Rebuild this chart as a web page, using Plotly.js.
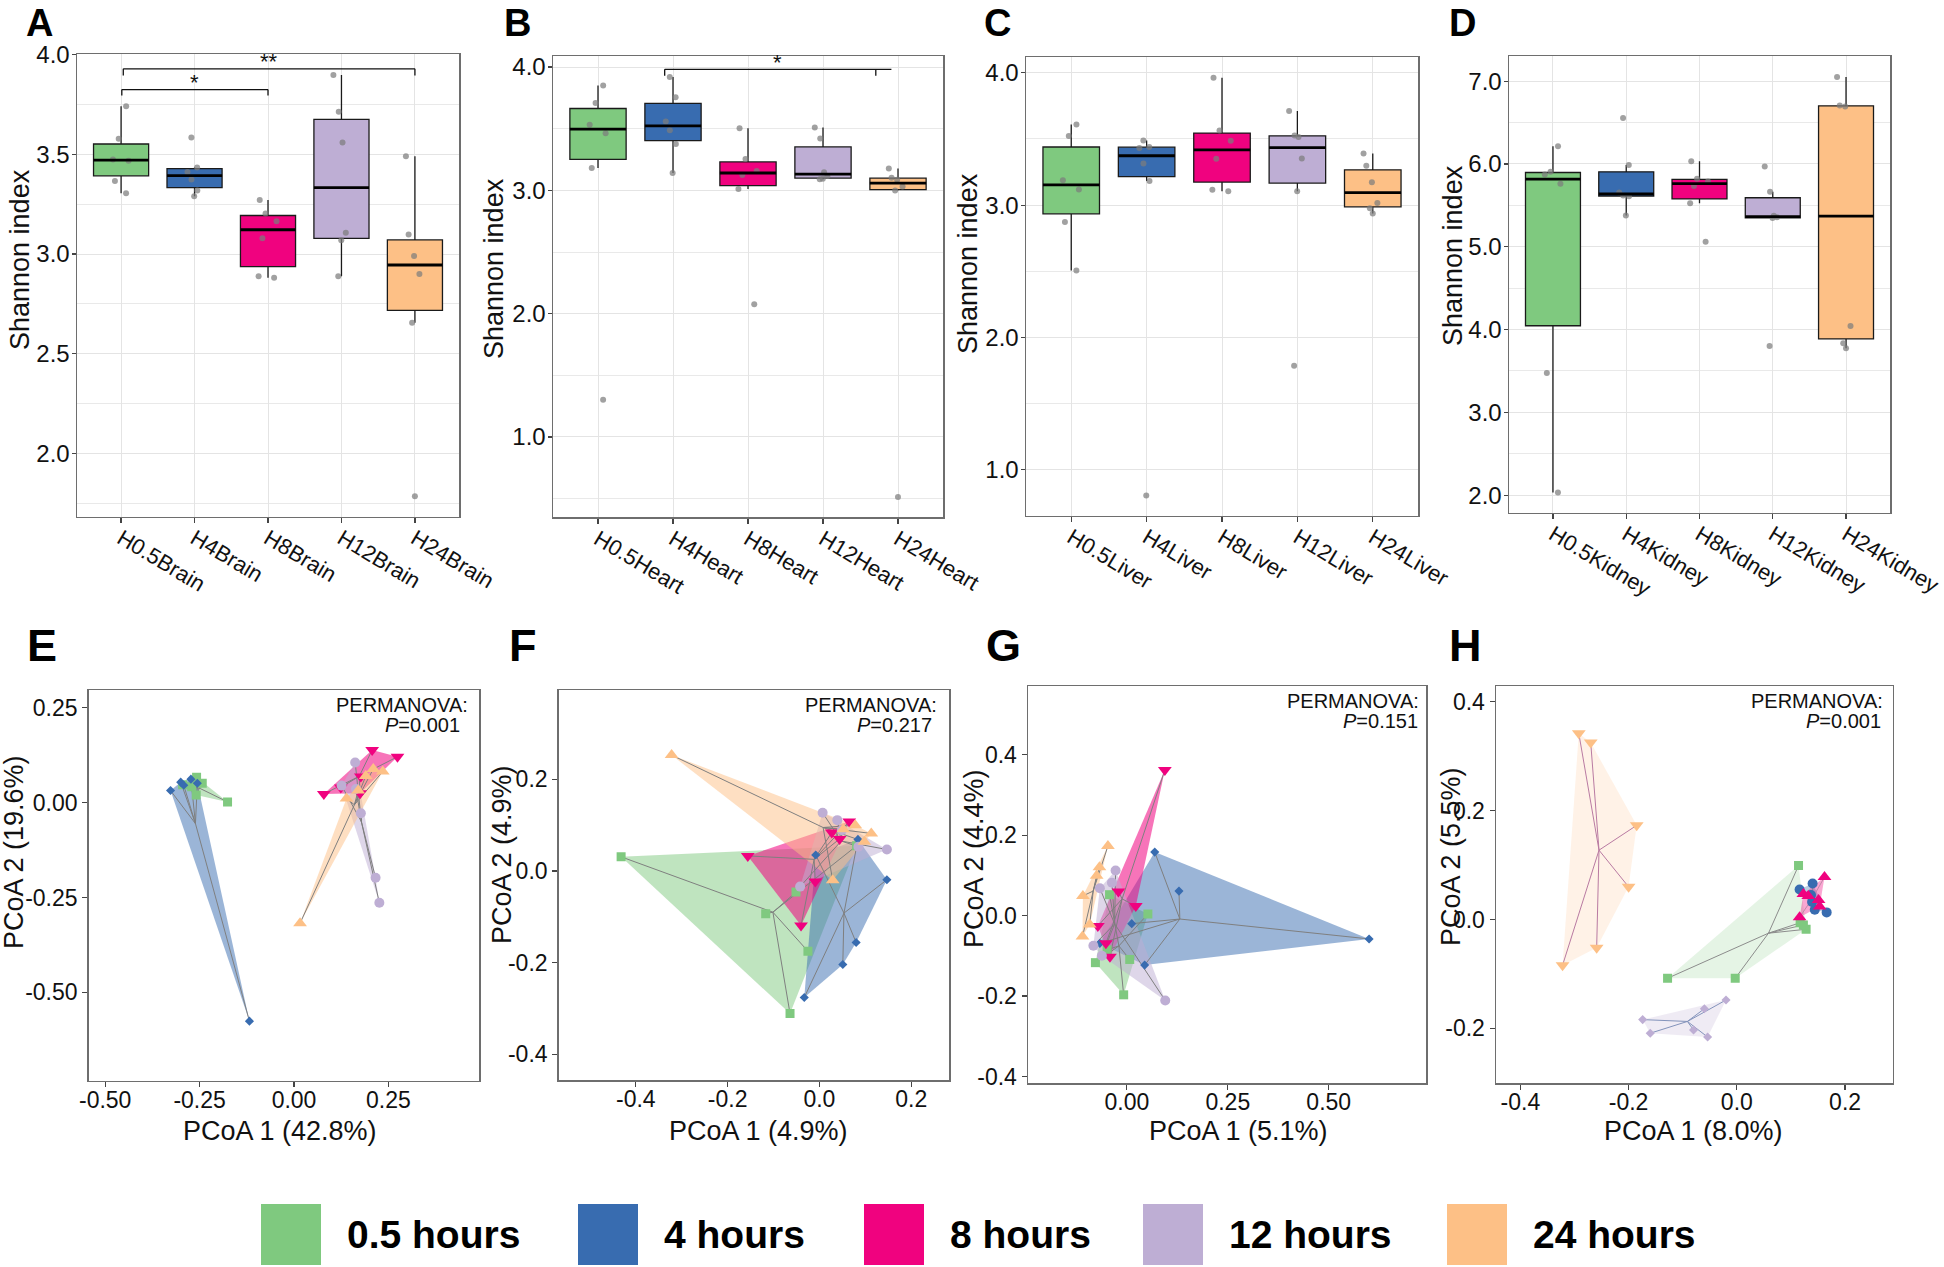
<!DOCTYPE html>
<html><head><meta charset="utf-8">
<script src="https://cdn.plot.ly/plotly-3.0.1.min.js"></script>
<style>html,body{margin:0;padding:0;background:#fff;} #chart{width:1944px;height:1267px;}</style>
</head><body><div id="chart"></div>
<script>
// ---------------- DATA ----------------
const groupLabels = ['0.5 hours','4 hours','8 hours','12 hours','24 hours'];
const groupColors = ['#7FC97F','#386CB0','#F0027F','#BEAED4','#FDC086'];

const brainCats  = ['H0.5Brain','H4Brain','H8Brain','H12Brain','H24Brain'];
const heartCats  = ['H0.5Heart','H4Heart','H8Heart','H12Heart','H24Heart'];
const liverCats  = ['H0.5Liver','H4Liver','H8Liver','H12Liver','H24Liver'];
const kidneyCats = ['H0.5Kidney','H4Kidney','H8Kidney','H12Kidney','H24Kidney'];

// Shannon index per sample
const brain05 = [3.741,3.578,3.474,3.468,3.367,3.305];
const brain4  = [3.585,3.434,3.412,3.374,3.319,3.290];
const brain8  = [3.271,3.203,3.165,3.079,2.889,2.881];
const brain12 = [3.898,3.714,3.560,3.107,3.069,2.889];
const brain24 = [3.491,3.098,2.990,2.900,2.656,1.785];

const heart05 = [3.851,3.708,3.531,3.463,3.181,1.301];
const heart4  = [3.919,3.755,3.559,3.488,3.376,3.141];
const heart8  = [3.504,3.255,3.156,3.125,3.010,2.076];
const heart12 = [3.510,3.420,3.147,3.116,3.094,3.091];
const heart24 = [3.178,3.103,3.085,3.032,2.998,0.513];

const liver05 = [3.610,3.523,3.188,3.118,2.873,2.506];
const liver4  = [3.488,3.440,3.431,3.315,3.182,0.806];
const liver8  = [3.962,3.564,3.486,3.350,3.116,3.104];
const liver12 = [3.711,3.526,3.515,3.353,3.104,1.786];
const liver24 = [3.390,3.298,3.173,3.017,2.977,2.936];

const kidney05 = [6.214,5.905,5.872,5.762,3.474,2.032];
const kidney4  = [6.556,5.988,5.656,5.618,5.610,5.378];
const kidney8  = [6.034,5.822,5.789,5.734,5.526,5.059];
const kidney12 = [5.970,5.665,5.373,5.355,5.346,3.802];
const kidney24 = [7.051,6.705,6.695,4.043,3.835,3.774];

// significance brackets: [fromIndex, toIndex, level, tickEnd, label]
const sigBrain = [[0.01,2,3.825,3.795,'*'],[0.03,4,3.929,3.896,'**']];
const sigHeart = [[0.889,3.912,3.981,3.929,'*']];

// PCoA coordinates (E brain, F heart, G liver, H kidney)
const brainPc1_05 = [-0.258,-0.243,-0.271,-0.259,-0.176,-0.295];
const brainPc2_05 = [0.067,0.051,0.042,0.020,0.002,0.047];
const brainPc1_4  = [-0.327,-0.300,-0.292,-0.273,-0.256,-0.118];
const brainPc2_4  = [0.032,0.054,0.046,0.062,0.051,-0.576];
const brainPc1_8  = [0.079,0.124,0.177,0.207,0.274,0.175];
const brainPc2_8  = [0.023,0.040,0.069,0.139,0.121,0.025];
const brainPc1_12 = [0.162,0.177,0.216,0.226,0.164,0.126];
const brainPc2_12 = [0.106,-0.028,-0.198,-0.264,0.036,0.045];
const brainPc1_24 = [0.016,0.139,0.210,0.235,0.170,0.190];
const brainPc2_24 = [-0.318,0.011,0.089,0.082,0.032,0.070];

const heartPc1_05 = [-0.432,-0.117,-0.051,-0.025,-0.064,0.081];
const heartPc2_05 = [0.031,-0.093,-0.046,-0.175,-0.311,0.055];
const heartPc1_4  = [-0.008,0.084,0.147,0.080,0.051,-0.033];
const heartPc2_4  = [0.035,0.069,-0.019,-0.156,-0.204,-0.276];
const heartPc1_8  = [-0.156,0.027,0.065,0.044,-0.009,-0.040];
const heartPc2_8  = [0.033,0.084,0.108,0.070,-0.023,-0.119];
const heartPc1_12 = [0.007,0.039,0.049,0.147,-0.042,0.085];
const heartPc2_12 = [0.127,0.111,0.089,0.047,-0.034,0.053];
const heartPc1_24 = [-0.322,0.078,0.113,0.098,0.029,0.052];
const heartPc2_24 = [0.253,0.100,0.082,0.064,-0.020,0.091];

const liverPc1_05 = [-0.043,0.052,0.007,-0.078,-0.008,-0.049];
const liverPc2_05 = [0.052,0.004,-0.109,-0.117,-0.197,-0.085];
const liverPc1_4  = [0.069,0.129,0.600,0.044,0.012,-0.067];
const liverPc2_4  = [0.158,0.061,-0.058,-0.123,-0.020,-0.069];
const liverPc1_8  = [0.094,-0.021,0.022,-0.072,-0.052,-0.042];
const liverPc2_8  = [0.362,0.060,0.024,-0.026,-0.069,-0.102];
const liverPc1_12 = [-0.028,-0.037,-0.067,-0.083,-0.062,0.095];
const liverPc2_12 = [0.112,0.082,0.068,-0.075,-0.100,-0.211];
const liverPc1_24 = [-0.047,-0.068,-0.075,-0.109,-0.092,-0.110];
const liverPc2_24 = [0.173,0.120,0.099,0.049,-0.022,-0.052];

const kidneyPc1_05 = [0.114,-0.128,-0.003,0.117,0.128,0.123];
const kidneyPc2_05 = [0.099,-0.108,-0.108,-0.006,-0.018,-0.010];
const kidneyPc1_4  = [0.116,0.140,0.137,0.144,0.166,0.139];
const kidneyPc2_4  = [0.055,0.066,0.045,0.018,0.013,0.032];
const kidneyPc1_8  = [0.162,0.123,0.132,0.151,0.153,0.116];
const kidneyPc2_8  = [0.078,0.047,0.043,0.036,0.024,0.004];
const kidneyPc1_12 = [-0.020,-0.060,-0.174,-0.160,-0.080,-0.054];
const kidneyPc2_12 = [-0.148,-0.164,-0.184,-0.209,-0.203,-0.216];
const kidneyPc1_24 = [-0.292,-0.270,-0.185,-0.200,-0.259,-0.322];
const kidneyPc2_24 = [0.342,0.325,0.173,0.060,-0.052,-0.084];

const permanovaP = ['0.001','0.217','0.151','0.001'];
const pcoaXTitles = ['PCoA 1 (42.8%)','PCoA 1 (4.9%)','PCoA 1 (5.1%)','PCoA 1 (8.0%)'];
const pcoaYTitles = ['PCoA 2 (19.6%)','PCoA 2 (4.9%)','PCoA 2 (4.4%)','PCoA 2 (5.5%)'];
const eTickVals = [-0.5,-0.25,0,0.25], eTickText = ['-0.50','-0.25','0.00','0.25'];
const fTickVals = [-0.4,-0.2,0,0.2],  fTickText = ['-0.4','-0.2','0.0','0.2'];
const gXTickVals = [0,0.25,0.5], gXTickText = ['0.00','0.25','0.50'];
const gYTickVals = [-0.4,-0.2,0,0.2,0.4], gYTickText = ['-0.4','-0.2','0.0','0.2','0.4'];
const hYTickVals = [-0.2,0,0.2,0.4], hYTickText = ['-0.2','0.0','0.2','0.4'];

// ---------------- HELPERS ----------------
const W = 1944, H = 1267;
const FONT = 'Liberation Sans, Arial, Helvetica, sans-serif';
function px2x(p){return p/W;} function px2y(p){return 1-p/H;}
function boxStats(v){
  const s=[...v].sort((a,b)=>a-b);
  const q=p=>{const h=(s.length-1)*p, lo=Math.floor(h), hi=Math.min(lo+1,s.length-1); return s[lo]+(h-lo)*(s[hi]-s[lo]);};
  const q1=q(0.25), med=q(0.5), q3=q(0.75), iqr=q3-q1;
  const lf=Math.min(...s.filter(x=>x>=q1-1.5*iqr));
  const uf=Math.max(...s.filter(x=>x<=q3+1.5*iqr));
  return {q1,med,q3,lf,uf};
}
function convexHull(xs,ys){
  const p=xs.map((x,i)=>[x,ys[i]]).sort((a,b)=>a[0]-b[0]||a[1]-b[1]);
  const cr=(o,a,b)=>(a[0]-o[0])*(b[1]-o[1])-(a[1]-o[1])*(b[0]-o[0]);
  const lo=[],up=[];
  for(const pt of p){while(lo.length>=2&&cr(lo[lo.length-2],lo[lo.length-1],pt)<=0)lo.pop();lo.push(pt);}
  for(let i=p.length-1;i>=0;i--){const pt=p[i];while(up.length>=2&&cr(up[up.length-2],up[up.length-1],pt)<=0)up.pop();up.push(pt);}
  up.pop();lo.pop();
  const h=lo.concat(up); h.push(h[0]);
  return h;
}
function rgba(hex,a){const n=parseInt(hex.slice(1),16);return `rgba(${n>>16},${(n>>8)&255},${n&255},${a})`;}

// ---------------- LAYOUT GEOMETRY ----------------
const boxPanels = [
  {id:1, letter:'A', cats:brainCats,  data:[brain05,brain4,brain8,brain12,brain24],      yr:[1.683,4.002], dtick:0.5, minor:0.25, px:[77,459,54.3,516.6], title:[20,260], lx:24, sig:sigBrain},
  {id:2, letter:'B', cats:heartCats,  data:[heart05,heart4,heart8,heart12,heart24],      yr:[0.348,4.087], dtick:1, minor:0.5, px:[553,943,56.3,517.4], title:[494,268], lx:502, sig:sigHeart},
  {id:3, letter:'C', cats:liverCats,  data:[liver05,liver4,liver8,liver12,liver24],      yr:[0.653,4.116], dtick:1, minor:0.5, px:[1026,1418,57.4,515.8], title:[968,264], lx:982, sig:[]},
  {id:4, letter:'D', cats:kidneyCats, data:[kidney05,kidney4,kidney8,kidney12,kidney24], yr:[1.787,7.30], dtick:1, minor:0.5, px:[1509,1890,56.3,512.8], title:[1453,256], lx:1447, sig:[]}
];
const symE = ['square','diamond','triangle-down','circle','triangle-up'];
const symH = ['square','circle','triangle-up','diamond','triangle-down'];
const pcoaPanels = [
  {id:5, letter:'E', xs:[brainPc1_05,brainPc1_4,brainPc1_8,brainPc1_12,brainPc1_24], ys:[brainPc2_05,brainPc2_4,brainPc2_8,brainPc2_12,brainPc2_24],
   xr:[-0.5437,0.4907], yr:[-0.733,0.297], xt:[eTickVals,eTickText], yt:[eTickVals,eTickText], px:[88.7,479.3,690,1080.7], sym:symE, alpha:[0.5,0.5,0.55,0.5,0.5], spider:['#7f7f7f','#7f7f7f','#7f7f7f','#7f7f7f','#7f7f7f'], xtitle:[280,1131], ytitle:[14,852], lx:25, pr:[9,17]},
  {id:6, letter:'F', xs:[heartPc1_05,heartPc1_4,heartPc1_8,heartPc1_12,heartPc1_24], ys:[heartPc2_05,heartPc2_4,heartPc2_8,heartPc2_12,heartPc2_24],
   xr:[-0.568,0.283], yr:[-0.456,0.395], xt:[fTickVals,fTickText], yt:[fTickVals,fTickText], px:[558.7,949.3,690,1080], sym:symE, alpha:[0.5,0.5,0.55,0.5,0.5], spider:['#7f7f7f','#7f7f7f','#7f7f7f','#7f7f7f','#7f7f7f'], xtitle:[758,1131], ytitle:[502,855], lx:507, pr:[10,15]},
  {id:7, letter:'G', xs:[liverPc1_05,liverPc1_4,liverPc1_8,liverPc1_12,liverPc1_24], ys:[liverPc2_05,liverPc2_4,liverPc2_8,liverPc2_12,liverPc2_24],
   xr:[-0.245,0.741], yr:[-0.417,0.571], xt:[gXTickVals,gXTickText], yt:[gYTickVals,gYTickText], px:[1028,1426,686,1083.3], sym:symE, alpha:[0.5,0.5,0.55,0.5,0.5], spider:['#7f7f7f','#7f7f7f','#7f7f7f','#7f7f7f','#7f7f7f'], xtitle:[1238,1131], ytitle:[974,858], lx:984, pr:[5,6]},
  {id:8, letter:'H', xs:[kidneyPc1_05,kidneyPc1_4,kidneyPc1_8,kidneyPc1_12,kidneyPc1_24], ys:[kidneyPc2_05,kidneyPc2_4,kidneyPc2_8,kidneyPc2_12,kidneyPc2_24],
   xr:[-0.445,0.288], yr:[-0.301,0.429], xt:[fTickVals,fTickText], yt:[hYTickVals,hYTickText], px:[1496,1892.7,686,1083.3], sym:symH, alpha:[0.2,0.35,0.35,0.25,0.2], spider:['#8c8c8c','#8c8c8c','#c08aa8','#8393bb','#b97aa2'], xtitle:[1693,1131], ytitle:[1451,857], lx:1447, pr:[8,10]}
];
const symSize = {'square':9,'circle':10,'diamond':7,'triangle-up':12,'triangle-down':12};

// ---------------- BUILD ----------------
const traces=[], shapes=[], annotations=[];
const layout = {width:W, height:H, margin:{l:0,r:0,t:0,b:0}, paper_bgcolor:'#fff', plot_bgcolor:'#fff',
  showlegend:false, font:{family:FONT, color:'#111'}, boxmode:'overlay'};

const axisLine = {showline:true, mirror:true, linecolor:'#6e6e6e', linewidth:1.5, ticks:'outside', ticklen:5, tickwidth:1.2, tickcolor:'#444', zeroline:false, fixedrange:true};

boxPanels.forEach(P=>{
  const xa='x'+P.id, ya='y'+P.id;
  layout['xaxis'+P.id] = Object.assign({}, axisLine, {domain:[px2x(P.px[0]),px2x(P.px[1])], anchor:ya, type:'category',
    categoryorder:'array', categoryarray:P.cats, range:[-0.6,4.6], showgrid:true, gridcolor:'#e4e4e4', gridwidth:1,
    tickangle:31, ticklabelstandoff:-6, tickfont:{size:22,color:'#111',family:FONT}});
  layout['yaxis'+P.id] = Object.assign({}, axisLine, {domain:[px2y(P.px[3]),px2y(P.px[2])], anchor:xa, range:P.yr,
    tick0:0, dtick:P.dtick, tickformat:'.1f', showgrid:true, gridcolor:'#e4e4e4', gridwidth:1, ticklen:4, ticklabelstandoff:-3,
    minor:{dtick:P.minor, showgrid:true, gridcolor:'#e9e9e9', gridwidth:1},
    tickfont:{size:24,color:'#111',family:FONT}});
  const jx=[], jy=[];
  P.data.forEach((vals,i)=>{
    const st=boxStats(vals);
    traces.push({type:'box', xaxis:xa, yaxis:ya, x:[P.cats[i]], q1:[st.q1], median:[st.med], q3:[st.q3],
      lowerfence:[st.lf], upperfence:[st.uf], fillcolor:groupColors[i], line:{color:'#1a1a1a', width:1.3},
      whiskerwidth:0, width:0.75, boxpoints:false, hoverinfo:'skip'});
    shapes.push({type:'line', xref:xa, yref:ya, x0:i-0.375, x1:i+0.375, y0:st.med, y1:st.med, line:{color:'#000', width:2.8}});
    vals.forEach(v=>{jx.push(P.cats[i]); jy.push(v);});
  });
  traces.push({type:'box', xaxis:xa, yaxis:ya, x:jx, y:jy, boxpoints:'all', jitter:0.35, pointpos:0,
    fillcolor:'rgba(0,0,0,0)', line:{color:'rgba(0,0,0,0)', width:0}, whiskerwidth:0, width:0.75,
    marker:{color:'rgba(125,125,125,0.72)', size:6}, hoverinfo:'skip'});
  // significance
  P.sig.forEach(s=>{
    const [a,b,lvl,te,lab]=s;
    shapes.push({type:'line', xref:xa, yref:ya, x0:a, x1:b, y0:lvl, y1:lvl, line:{color:'#111', width:1.3}});
    shapes.push({type:'line', xref:xa, yref:ya, x0:a, x1:a, y0:lvl, y1:te, line:{color:'#111', width:1.3}});
    const bx = (P.id===2) ? 3.704 : b;
    shapes.push({type:'line', xref:xa, yref:ya, x0:bx, x1:bx, y0:lvl, y1:te, line:{color:'#111', width:1.3}});
    const cx = (P.id===2) ? 2.394 : (a+b)/2;
    annotations.push({xref:xa, yref:ya, x:cx, y:lvl, text:lab, showarrow:false, xanchor:'center', yanchor:'middle', yshift:7, font:{size:22,color:'#111'}});
  });
  // y title
  annotations.push({xref:'paper', yref:'paper', x:px2x(P.title[0]), y:px2y(P.title[1]), text:'Shannon index', textangle:-90,
    showarrow:false, xanchor:'center', yanchor:'middle', font:{size:27,color:'#111'}});
  annotations.push({xref:'paper', yref:'paper', x:px2x(P.lx), y:px2y(0), text:'<b>'+P.letter+'</b>', showarrow:false,
    xanchor:'left', yanchor:'top', font:{size:38,color:'#000'}});
});

pcoaPanels.forEach(P=>{
  const xa='x'+P.id, ya='y'+P.id;
  layout['xaxis'+P.id] = Object.assign({}, axisLine, {domain:[px2x(P.px[0]),px2x(P.px[1])], anchor:ya, range:P.xr,
    tickvals:P.xt[0], ticktext:P.xt[1], showgrid:false, ticklabelstandoff:-7, tickfont:{size:23,color:'#111',family:FONT}});
  layout['yaxis'+P.id] = Object.assign({}, axisLine, {domain:[px2y(P.px[3]),px2y(P.px[2])], anchor:xa, range:P.yr,
    tickvals:P.yt[0], ticktext:P.yt[1], showgrid:false, tickfont:{size:23,color:'#111',family:FONT}});
  // hulls
  P.xs.forEach((xs,g)=>{
    const h=convexHull(xs,P.ys[g]);
    traces.push({type:'scatter', mode:'lines', xaxis:xa, yaxis:ya, x:h.map(p=>p[0]), y:h.map(p=>p[1]), fill:'toself',
      fillcolor:rgba(groupColors[g],P.alpha[g]), line:{width:0, color:'rgba(0,0,0,0)'}, hoverinfo:'skip'});
  });
  // spider lines
  P.xs.forEach((xs,g)=>{
    const ys=P.ys[g];
    const cx=xs.reduce((a,b)=>a+b,0)/xs.length, cy=ys.reduce((a,b)=>a+b,0)/ys.length;
    const lx=[], ly=[];
    xs.forEach((x,i)=>{lx.push(cx,x,null); ly.push(cy,ys[i],null);});
    traces.push({type:'scatter', mode:'lines', xaxis:xa, yaxis:ya, x:lx, y:ly, line:{width:1, color:P.spider[g]}, hoverinfo:'skip'});
  });
  // points
  P.xs.forEach((xs,g)=>{
    traces.push({type:'scatter', mode:'markers', xaxis:xa, yaxis:ya, x:xs, y:P.ys[g], name:groupLabels[g],
      marker:{symbol:P.sym[g], size:symSize[P.sym[g]], color:groupColors[g], line:{width:0}}});
  });
  // PERMANOVA
  annotations.push({xref:xa+' domain', yref:ya+' domain', x:1, y:1, xshift:-P.pr[0], yshift:-2, text:'PERMANOVA:',
    showarrow:false, xanchor:'right', yanchor:'top', font:{size:20,color:'#111'}});
  annotations.push({xref:xa+' domain', yref:ya+' domain', x:1, y:1, xshift:-P.pr[1], yshift:-22, text:'<i>P</i>=' + permanovaP[P.id-5],
    showarrow:false, xanchor:'right', yanchor:'top', font:{size:20,color:'#111'}});
  // titles
  annotations.push({xref:'paper', yref:'paper', x:px2x(P.xtitle[0]), y:px2y(P.xtitle[1]), text:pcoaXTitles[P.id-5],
    showarrow:false, xanchor:'center', yanchor:'middle', font:{size:27,color:'#111'}});
  annotations.push({xref:'paper', yref:'paper', x:px2x(P.ytitle[0]), y:px2y(P.ytitle[1]), text:pcoaYTitles[P.id-5], textangle:-90,
    showarrow:false, xanchor:'center', yanchor:'middle', font:{size:27,color:'#111'}});
  annotations.push({xref:'paper', yref:'paper', x:px2x(P.lx), y:px2y(618), text:'<b>'+P.letter+'</b>', showarrow:false,
    xanchor:'left', yanchor:'top', font:{size:45,color:'#000'}});
});

// legend (bottom)
const legendSqX = [261,578,864,1143,1447];
groupLabels.forEach((lab,i)=>{
  shapes.push({type:'rect', xref:'paper', yref:'paper', x0:px2x(legendSqX[i]), x1:px2x(legendSqX[i]+60),
    y0:px2y(1265), y1:px2y(1204), fillcolor:groupColors[i], line:{width:0}});
  annotations.push({xref:'paper', yref:'paper', x:px2x(legendSqX[i]+84), y:px2y(1234), text:'<b>'+lab+'</b>',
    showarrow:false, xanchor:'left', yanchor:'middle', font:{size:39,color:'#000'}});
});

layout.shapes=shapes; layout.annotations=annotations;
Plotly.newPlot('chart', traces, layout, {staticPlot:true, displayModeBar:false});
</script>
</body></html>
